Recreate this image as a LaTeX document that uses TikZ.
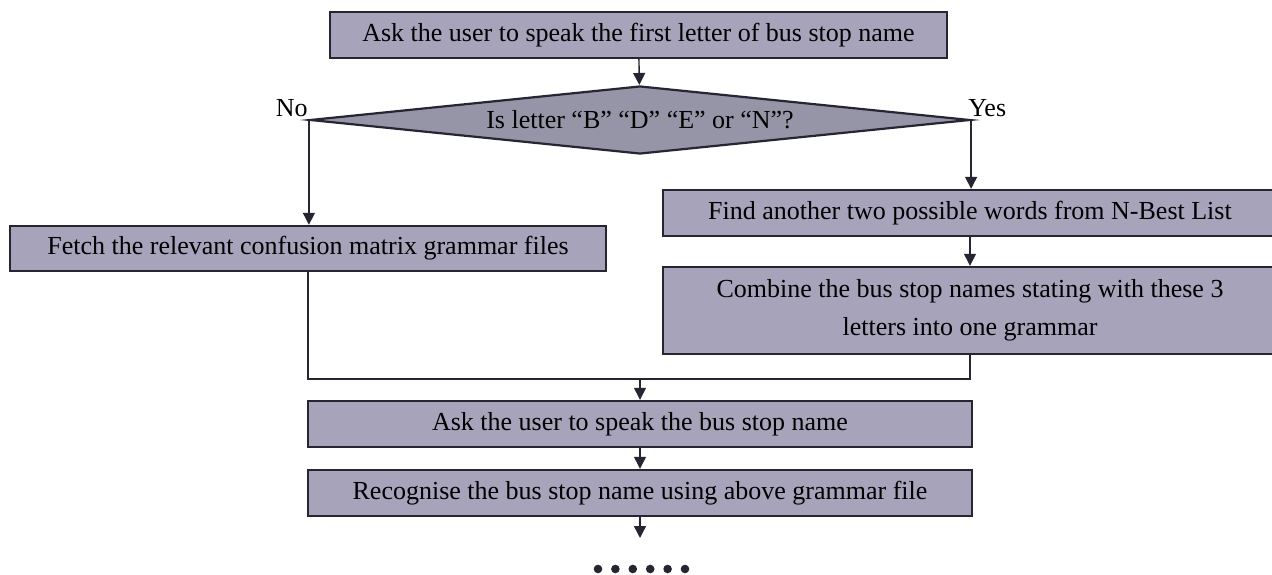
\documentclass[tikz,border=0pt]{standalone}
\usepackage{fontspec}
\setmainfont{Liberation Serif}
\usetikzlibrary{shapes.geometric,arrows.meta}
\definecolor{boxfill}{RGB}{166,163,187}
\definecolor{diafill}{RGB}{150,149,168}
\definecolor{edgecol}{RGB}{38,38,50}
\tikzset{
  txt/.style={font=\fontsize{26}{38}\selectfont},
  stepbox/.style={txt, draw=edgecol, line width=2.4pt, fill=boxfill,
    inner sep=0pt, align=center},
  decision/.style={txt, diamond, draw=edgecol, line width=2.2pt, fill=diafill,
    inner sep=0pt, aspect=9.7, minimum width=660pt, minimum height=68pt},
  conn/.style={draw=edgecol, line width=1.4pt},
  arr/.style={conn, -{Triangle[width=12pt,length=12pt]}},
  lbl/.style={txt, inner sep=0pt}
}
\begin{document}
\begin{tikzpicture}[x=1pt,y=-1pt]
  \clip (0,0) rectangle (1272,575);
  \fill[white] (0,0) rectangle (1272,575);

  % process steps
  \node[stepbox, minimum width=617pt, minimum height=46pt] (ask1) at (638.5,35)
    {Ask the user to speak the first letter of bus stop name};
  \node[decision] (q) at (640,120) {Is letter “B” “D” “E” or “N”?};
  \node[stepbox, minimum width=596pt, minimum height=45pt] (fetch) at (308,248.5)
    {Fetch the relevant confusion matrix grammar files};
  \node[stepbox, minimum width=614pt, minimum height=46pt] (find) at (970,213)
    {Find another two possible words from N-Best List};
  \node[stepbox, minimum width=614pt, minimum height=87pt] (combine) at (970,310.5)
    {Combine the bus stop names stating with these 3\\letters into one grammar};
  \node[stepbox, minimum width=664pt, minimum height=46pt] (ask2) at (640,424)
    {Ask the user to speak the bus stop name};
  \node[stepbox, minimum width=664pt, minimum height=46pt] (recog) at (640,493)
    {Recognise the bus stop name using above grammar file};

  % branch labels
  \node[lbl, anchor=base east] (no) at ([xshift=-1pt,yshift=3pt]q.west) {No};
  \node[lbl, anchor=base west] (yes) at ([xshift=-3pt,yshift=3pt]q.east) {Yes};

  \coordinate (m) at (640,379);
  \coordinate (tail) at (640,538);

  % connectors
  \draw[arr] (ask1) -- (q);
  \draw[arr] (q.west) -- (q.west |- fetch.north);
  \draw[arr] (q.east) -- (q.east |- find.north);
  \draw[arr] (find) -- (combine);
  \draw[conn] (fetch.south) |- (m) -| (combine.south);
  \draw[arr] (m) -- (ask2.north);
  \draw[arr] (ask2) -- (recog);
  \draw[arr] (recog.south) -- (tail);

  % continuation dots
  \foreach \k in {0,...,5}
    \fill[edgecol] (598+17.4*\k,569) circle (4.3pt);
\end{tikzpicture}
\end{document}
